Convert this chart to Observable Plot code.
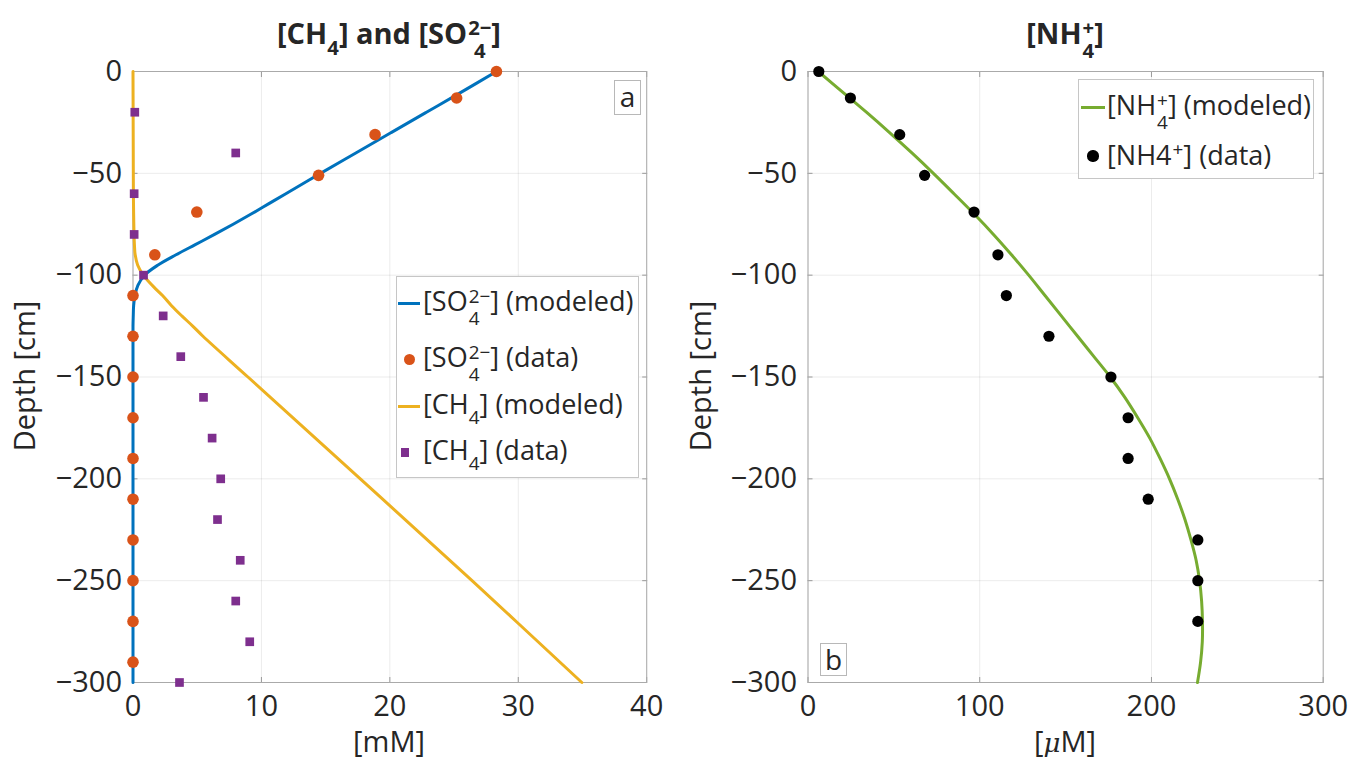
<!DOCTYPE html>
<html><head><meta charset="utf-8">
<script src="https://cdn.jsdelivr.net/npm/d3@7"></script>
<script src="https://cdn.jsdelivr.net/npm/@observablehq/plot@0.6"></script>
<style>
html,body{margin:0;padding:0;background:#fff;}
#root{position:relative;width:1353px;height:759px;overflow:hidden;font-family:"Open Sans",sans-serif;color:#262626;}
.abs{position:absolute;white-space:nowrap;}
.panel{position:absolute;top:0;}
.ss{display:inline-flex;flex-direction:column;font-size:0.7em;line-height:1.15;vertical-align:0.44em;margin-left:1px;}
.sub{font-size:0.7em;vertical-align:-0.55em;line-height:0;}
.title{font-weight:bold;font-size:29px;line-height:30px;text-align:center;}
.lab{font-size:29px;line-height:30px;}
.leg{position:absolute;background:#fff;border:1px solid #c6c6c6;box-sizing:border-box;}
.lt{position:absolute;font-size:27px;line-height:30px;white-space:nowrap;}
.box{position:absolute;background:#fff;border:1px solid #b8b8b8;box-sizing:border-box;font-size:28px;line-height:30px;text-align:center;}
</style>
</head><body>
<div id="root"></div>
<script>
// ---------- data ----------
// Panel a: sulfate
const so4DataDepth = [0,-13,-31,-51,-69,-90,-110,-130,-150,-170,-190,-210,-230,-250,-270,-290];
const so4DataConc  = [28.3,25.2,18.85,14.45,4.97,1.7,0,0,0,0,0,0,0,0,0,0];
const so4ModelDepth = [0,-10,-20,-30,-40,-50,-60,-65,-70,-75,-80,-85,-90,-95,-100,-105,-110,-115,-120,-125,-150,-200,-250,-300];
const so4ModelConc  = [28.3,25.6,22.85,20.1,17.35,14.6,11.9,10.55,9.2,7.8,6.35,4.85,3.35,1.95,0.9,0.38,0.15,0.05,0.02,0,0,0,0,0];
// Panel a: methane
const ch4DataDepth = [-20,-40,-60,-80,-100,-120,-140,-160,-180,-200,-220,-240,-260,-280,-300];
const ch4DataConc  = [0.14,8.0,0.09,0.09,0.82,2.35,3.72,5.49,6.16,6.83,6.58,8.35,8.0,9.09,3.62];
const ch4ModelDepth = [0,-20,-40,-60,-70,-80,-85,-90,-95,-100,-103,-106,-110,-115,-120,-125,-130,-150,-200,-250,-300];
const ch4ModelConc  = [0,0.01,0.02,0.03,0.05,0.08,0.11,0.17,0.36,0.8,1.2,1.65,2.3,3.0,3.8,4.65,5.45,8.95,17.7,26.4,34.95];
// Panel b: ammonium
const nh4DataDepth = [0,-13,-31,-51,-69,-90,-110,-130,-150,-170,-190,-210,-230,-250,-270];
const nh4DataConc  = [6.3,24.7,53.4,67.9,96.7,110.6,115.5,140.3,176.4,186.4,186.4,198.1,227,227,227];
const nh4ModelDepth = [0,-10,-20,-30,-40,-50,-60,-70,-80,-90,-100,-110,-120,-130,-140,-150,-160,-170,-180,-190,-200,-210,-220,-230,-240,-250,-260,-270,-280,-290,-300];
const nh4ModelConc  = [6,20,34,47.5,60.5,73,85,96.8,108,118.5,128.5,138,147.5,157,166.5,176,184.5,192,199,205,210.5,215.3,219.5,223,226,228,229.2,229.7,229.6,228.6,226.8];
// ticks
const yTicks = [-300,-250,-200,-150,-100,-50,0];
const xTicksA = [0,10,20,30,40];
const xTicksB = [0,100,200,300];

const zip = (d, c) => d.map((v, i) => ({depth: v, conc: c[i]}));
const so4Data = zip(so4DataDepth, so4DataConc);
const so4Model = zip(so4ModelDepth, so4ModelConc);
const ch4Data = zip(ch4DataDepth, ch4DataConc);
const ch4Model = zip(ch4ModelDepth, ch4ModelConc);
const nh4Data = zip(nh4DataDepth, nh4DataConc);
const nh4Model = zip(nh4ModelDepth, nh4ModelConc);

const FS = 29;
function frameMarks(xTicks) {
  const tick = () => "";
  return [
    Plot.gridX(xTicks, {stroke: "#000", strokeOpacity: 0.08}),
    Plot.gridY(yTicks, {stroke: "#000", strokeOpacity: 0.08}),
    Plot.axisX(xTicks, {anchor: "bottom", tickSize: -5, tickFormat: tick, label: null, stroke: "#999"}),
    Plot.axisX(xTicks, {anchor: "top", tickSize: -5, tickFormat: tick, label: null, stroke: "#999"}),
    Plot.axisY(yTicks, {anchor: "left", tickSize: -5, tickFormat: tick, label: null, stroke: "#999"}),
    Plot.axisY(yTicks, {anchor: "right", tickSize: -5, tickFormat: tick, label: null, stroke: "#999"}),
    Plot.frame({stroke: "#aaaaaa"}),
    Plot.axisX(xTicks, {anchor: "bottom", tickSize: 0, tickPadding: 13, label: null, fontSize: FS, fill: "#262626"}),
    Plot.axisY(yTicks, {anchor: "left", tickSize: 0, tickPadding: 11, label: null, fontSize: FS, fill: "#262626"})
  ];
}
const style = {fontFamily: "Open Sans, sans-serif", fontSize: FS + "px", color: "#262626", background: "transparent", overflow: "visible"};

const plotA = Plot.plot({
  width: 676, height: 759,
  marginLeft: 132.5, marginRight: 29.8, marginTop: 71, marginBottom: 77,
  style,
  x: {domain: [0, 40]},
  y: {domain: [-300, 0]},
  marks: [
    ...frameMarks(xTicksA),
    Plot.line(so4Model, {x: "conc", y: "depth", stroke: "#0072BD", strokeWidth: 3, curve: "catmull-rom"}),
    Plot.line(ch4Model, {x: "conc", y: "depth", stroke: "#EDB120", strokeWidth: 3, curve: "catmull-rom"}),
    Plot.dot(so4Data, {x: "conc", y: "depth", r: 5.8, fill: "#D95319"}),
    Plot.dot(ch4Data, {x: "conc", y: "depth", r: 4.9, symbol: "square", fill: "#7E2F8E"})
  ]
});
const plotB = Plot.plot({
  width: 677, height: 759,
  marginLeft: 131.5, marginRight: 30.3, marginTop: 71, marginBottom: 77,
  style,
  x: {domain: [0, 300]},
  y: {domain: [-300, 0]},
  marks: [
    ...frameMarks(xTicksB),
    Plot.line(nh4Model, {x: "conc", y: "depth", stroke: "#77AC30", strokeWidth: 3, curve: "catmull-rom"}),
    Plot.dot(nh4Data, {x: "conc", y: "depth", r: 5.6, fill: "#000"})
  ]
});

const root = document.getElementById("root");
const wa = document.createElement("div"); wa.className = "panel"; wa.style.left = "0px"; wa.appendChild(plotA); root.appendChild(wa);
const wb = document.createElement("div"); wb.className = "panel"; wb.style.left = "676px"; wb.appendChild(plotB); root.appendChild(wb);

function add(html, cls, css) {
  const d = document.createElement("div");
  d.className = cls;
  d.innerHTML = html;
  Object.assign(d.style, css);
  root.appendChild(d);
  return d;
}
const SO4 = '[SO<span class="ss"><span>2−</span><span>4</span></span>]';
const CH4 = '[CH<span class="sub">4</span>]';
const NH4 = '[NH<span class="ss"><span>+</span><span>4</span></span>]';

// titles
add(CH4 + ' and ' + SO4, "abs title", {left: "189px", width: "400px", top: "16px"});
add(NH4, "abs title", {left: "865px", width: "400px", top: "16px"});
// axis labels
add('[mM]', "abs lab", {left: "289px", width: "200px", textAlign: "center", top: "726px"});
add('[<i style="font-family:\'DejaVu Serif\',serif;font-size:0.9em">μ</i>M]', "abs lab", {left: "965px", width: "200px", textAlign: "center", top: "726px"});
add('Depth [cm]', "abs lab", {left: "-76px", width: "200px", textAlign: "center", top: "361px", transform: "rotate(-90deg)"});
add('Depth [cm]', "abs lab", {left: "600px", width: "200px", textAlign: "center", top: "361px", transform: "rotate(-90deg)"});

// panel labels
add('a', "box", {left: "614px", top: "80px", width: "27px", height: "35px"});
add('b', "box", {left: "820px", top: "643px", width: "27px", height: "33px"});

// legend a
add('', "leg", {left: "395.7px", top: "276px", width: "243.5px", height: "201.5px"});
function lineSample(x1, x2, y, color) {
  add('', "abs", {left: x1 + "px", top: (y - 1.5) + "px", width: (x2 - x1) + "px", height: "3px", background: color});
}
function dotSample(cx, cy, r, color, square) {
  add('', "abs", {left: (cx - r) + "px", top: (cy - r) + "px", width: 2 * r + "px", height: 2 * r + "px", background: color, borderRadius: square ? "0" : "50%"});
}
const rowsA = [303.3, 359.3, 406.7, 452.7];
lineSample(398, 420, rowsA[0], "#0072BD");
dotSample(409.3, rowsA[1], 5.8, "#D95319");
lineSample(398, 420, rowsA[2], "#EDB120");
dotSample(405, rowsA[3], 4.35, "#7E2F8E", true);
add(SO4 + ' (modeled)', "lt", {left: "423px", top: (rowsA[0] - 17.5) + "px"});
add(SO4 + ' (data)', "lt", {left: "423px", top: (rowsA[1] - 17.5) + "px"});
add(CH4 + ' (modeled)', "lt", {left: "423px", top: (rowsA[2] - 17.5) + "px"});
add(CH4 + ' (data)', "lt", {left: "423px", top: (rowsA[3] - 17.5) + "px"});

// legend b
add('', "leg", {left: "1078px", top: "79.3px", width: "236px", height: "100px"});
lineSample(1081, 1105, 107.3, "#77AC30");
dotSample(1093, 156, 5.6, "#000");
add(NH4 + ' (modeled)', "lt", {left: "1107px", top: (107.3 - 17.5) + "px"});
add('[NH4<span class="ss" style="vertical-align:0.5em"><span>+</span></span>] (data)', "lt", {left: "1107px", top: (156 - 17.5) + "px"});
</script>
</body></html>
